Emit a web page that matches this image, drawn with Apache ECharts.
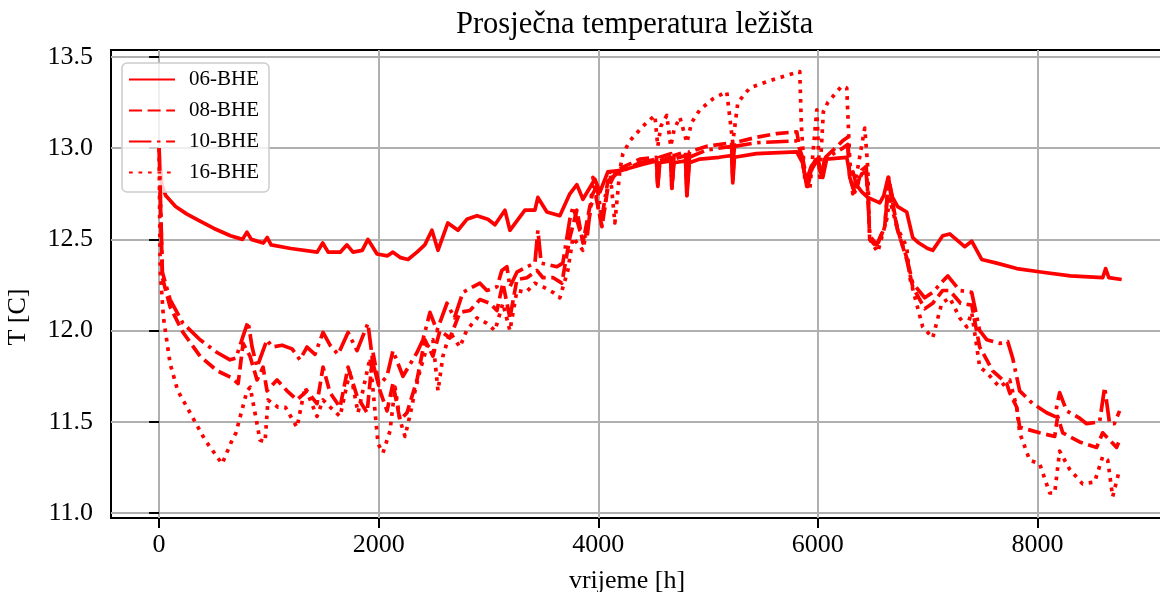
<!DOCTYPE html>
<html><head><meta charset="utf-8">
<script src="https://cdn.jsdelivr.net/npm/echarts@6/dist/echarts.min.js"></script>
<style>html,body{margin:0;padding:0;background:#fff}#c{width:1160px;height:592px}</style>
</head><body><div id="c"></div>
<script>
const titleText = 'Prosječna temperatura ležišta';
const seriesNames = ['06-BHE', '08-BHE', '10-BHE', '16-BHE'];
const xTicks = [0, 2000, 4000, 6000, 8000];
const yTicks = [11.0, 11.5, 12.0, 12.5, 13.0, 13.5];

const s06 = [[0,13.0],[25,12.80],[60,12.74],[150,12.68],[250,12.64],[373,12.60],[500,12.56],[650,12.52],[760,12.50],[800,12.54],[840,12.50],[950,12.48],[985,12.51],[1020,12.47],[1200,12.45],[1440,12.43],[1490,12.48],[1540,12.43],[1650,12.43],[1711,12.47],[1766,12.43],[1850,12.44],[1902,12.50],[1985,12.42],[2080,12.41],[2130,12.43],[2200,12.40],[2267,12.39],[2349,12.43],[2420,12.47],[2485,12.55],[2540,12.44],[2630,12.59],[2722,12.55],[2803,12.61],[2895,12.63],[2995,12.61],[3059,12.58],[3150,12.66],[3195,12.55],[3332,12.66],[3423,12.66],[3450,12.73],[3532,12.65],[3650,12.63],[3741,12.75],[3805,12.80],[3860,12.72],[3969,12.83],[4015,12.76],[4087,12.87],[4224,12.88],[4400,12.91],[4530,12.93],[4542,12.79],[4560,12.92],[4660,12.93],[4670,12.79],[4690,12.92],[4795,12.93],[4807,12.74],[4830,12.92],[4925,12.94],[5100,12.95],[5215,12.96],[5225,12.81],[5240,12.95],[5440,12.97],[5808,12.98],[5860,12.92],[5899,12.79],[5940,12.88],[6000,12.94],[6045,12.84],[6080,12.94],[6263,12.95],[6290,12.86],[6320,12.87],[6350,12.80],[6400,12.76],[6454,12.73],[6564,12.70],[6600,12.74],[6640,12.84],[6680,12.73],[6727,12.68],[6809,12.65],[6864,12.51],[6920,12.48],[7000,12.45],[7046,12.44],[7137,12.52],[7201,12.53],[7337,12.46],[7401,12.49],[7492,12.39],[7629,12.37],[7811,12.34],[8047,12.32],[8300,12.30],[8594,12.29],[8621,12.34],[8650,12.29],[8767,12.28]];

const s08 = [[0,13.0],[30,12.29],[100,12.13],[218,11.99],[373,11.86],[528,11.78],[665,11.74],[720,11.71],[765,11.93],[828,11.86],[892,11.73],[947,11.80],[983,11.67],[1074,11.73],[1165,11.67],[1256,11.62],[1347,11.67],[1438,11.60],[1493,11.80],[1557,11.66],[1648,11.58],[1721,11.80],[1803,11.64],[1894,11.55],[1948,11.88],[2012,11.67],[2076,11.56],[2130,11.71],[2194,11.51],[2258,11.55],[2349,11.73],[2421,11.95],[2494,11.86],[2558,12.00],[2649,11.96],[2740,12.10],[2831,12.11],[2922,12.17],[3013,12.15],[3077,12.11],[3131,12.26],[3195,12.07],[3259,12.28],[3350,12.29],[3441,12.33],[3496,12.29],[3590,12.29],[3668,12.26],[3741,12.51],[3805,12.66],[3860,12.48],[3923,12.68],[3980,12.73],[4033,12.57],[4087,12.78],[4169,12.88],[4379,12.94],[4530,12.95],[4542,12.80],[4560,12.95],[4660,12.97],[4670,12.78],[4690,12.96],[4795,12.98],[4807,12.74],[4830,12.98],[4989,13.01],[5215,13.03],[5225,12.84],[5240,13.03],[5444,13.06],[5626,13.08],[5808,13.09],[5850,12.94],[5908,12.79],[5950,12.90],[5990,12.95],[6036,12.84],[6070,12.95],[6226,13.04],[6272,13.06],[6290,12.84],[6336,12.75],[6400,12.88],[6440,12.90],[6460,12.70],[6472,12.50],[6536,12.46],[6609,12.57],[6645,12.84],[6682,12.70],[6727,12.55],[6809,12.39],[6864,12.24],[6973,12.12],[7046,12.15],[7137,12.22],[7200,12.22],[7300,12.15],[7401,12.14],[7474,11.91],[7592,11.78],[7720,11.71],[7747,11.66],[7811,11.58],[7838,11.47],[8020,11.44],[8157,11.42],[8184,11.53],[8230,11.44],[8384,11.39],[8539,11.36],[8594,11.44],[8657,11.40],[8721,11.36],[8748,11.40]];

const s10 = [[0,13.0],[30,12.32],[100,12.17],[218,12.04],[373,11.95],[528,11.88],[646,11.84],[700,11.85],[765,11.97],[810,12.05],[847,11.91],[892,11.80],[983,11.95],[1030,11.91],[1120,11.92],[1211,11.90],[1283,11.84],[1347,11.91],[1420,11.87],[1493,11.99],[1557,11.92],[1630,11.87],[1721,11.99],[1803,11.89],[1902,12.04],[1948,11.82],[2000,11.70],[2076,11.75],[2130,11.89],[2221,11.75],[2349,11.88],[2403,11.95],[2467,12.10],[2531,12.00],[2622,12.15],[2690,12.07],[2767,12.21],[2858,12.24],[2922,12.26],[2986,12.22],[3077,12.24],[3122,12.33],[3168,12.35],[3195,12.24],[3259,12.32],[3350,12.35],[3423,12.37],[3450,12.55],[3480,12.37],[3623,12.35],[3677,12.37],[3741,12.61],[3770,12.68],[3832,12.55],[3896,12.50],[3941,12.74],[3987,12.79],[4033,12.62],[4087,12.82],[4169,12.86],[4379,12.92],[4530,12.94],[4542,12.80],[4560,12.93],[4660,12.95],[4670,12.78],[4690,12.94],[4795,12.96],[4807,12.76],[4830,12.95],[4989,12.99],[5215,13.01],[5225,12.83],[5240,13.01],[5444,13.03],[5808,13.04],[5860,12.95],[5899,12.83],[5940,12.90],[5990,12.94],[6036,12.84],[6060,12.94],[6226,13.00],[6272,13.02],[6290,12.84],[6336,12.76],[6400,12.86],[6440,12.87],[6460,12.68],[6472,12.52],[6536,12.47],[6609,12.57],[6645,12.82],[6682,12.68],[6727,12.55],[6809,12.40],[6864,12.26],[6973,12.18],[7046,12.21],[7137,12.27],[7183,12.30],[7292,12.22],[7401,12.21],[7474,12.00],[7538,11.95],[7656,11.93],[7729,11.94],[7774,11.85],[7838,11.67],[7956,11.60],[8084,11.55],[8157,11.53],[8202,11.66],[8266,11.56],[8384,11.52],[8448,11.49],[8566,11.50],[8612,11.69],[8657,11.49],[8700,11.49],[8748,11.56]];

const s16 = [[0,13.0],[10,12.33],[40,12.07],[100,11.82],[170,11.67],[282,11.55],[419,11.40],[574,11.27],[665,11.40],[700,11.44],[801,11.67],[830,11.69],[919,11.40],[965,11.39],[992,11.62],[1083,11.58],[1150,11.58],[1256,11.47],[1329,11.69],[1438,11.53],[1493,11.62],[1560,11.58],[1648,11.53],[1739,11.78],[1812,11.55],[1921,11.85],[1960,11.60],[1994,11.38],[2039,11.33],[2103,11.45],[2149,11.69],[2194,11.51],[2240,11.42],[2290,11.55],[2331,11.67],[2376,11.78],[2440,11.91],[2494,11.95],[2540,11.67],[2585,11.86],[2650,11.99],[2740,11.91],[2800,12.00],[2895,12.07],[2986,12.04],[3059,12.00],[3131,12.15],[3195,12.00],[3259,12.22],[3340,12.21],[3423,12.26],[3496,12.24],[3587,12.21],[3650,12.18],[3723,12.33],[3769,12.51],[3860,12.44],[3923,12.64],[3951,12.84],[4033,12.57],[4106,12.88],[4151,12.59],[4197,12.88],[4224,12.97],[4288,13.04],[4406,13.12],[4515,13.18],[4542,13.01],[4570,13.12],[4624,13.18],[4660,13.01],[4690,13.10],[4743,13.17],[4807,13.03],[4850,13.14],[4925,13.21],[5043,13.27],[5170,13.31],[5225,13.03],[5271,13.25],[5380,13.33],[5562,13.37],[5835,13.42],[5850,13.12],[5881,12.83],[5926,12.77],[5990,13.21],[6017,12.84],[6050,13.20],[6090,13.25],[6217,13.34],[6263,13.33],[6290,12.94],[6318,12.75],[6360,12.88],[6427,13.11],[6454,12.90],[6472,12.50],[6545,12.43],[6627,12.61],[6654,12.72],[6718,12.57],[6809,12.46],[6837,12.29],[6955,12.02],[7046,11.96],[7128,12.15],[7201,12.18],[7292,12.07],[7356,12.02],[7401,12.10],[7474,11.80],[7538,11.77],[7656,11.69],[7747,11.73],[7811,11.58],[7838,11.44],[7929,11.29],[8020,11.27],[8111,11.11],[8157,11.11],[8202,11.34],[8293,11.24],[8411,11.16],[8520,11.17],[8594,11.31],[8640,11.29],[8685,11.09],[8748,11.24]];

const FONT = '"Liberation Serif","Times New Roman",serif';
const LW = 3.7;
const dashTypes = ['solid', [13, 5.6], [22.4, 5.6, 3.5, 5.6], [3.7, 5.8]];
const seriesData = [s06, s08, s10, s16];

const chart = echarts.init(document.getElementById('c'), null, {renderer: 'canvas'});
chart.setOption({
  animation: false,
  backgroundColor: '#ffffff',
  title: {
    text: titleText, left: 451, top: 4,
    textStyle: {fontFamily: FONT, fontSize: 30.5, fontWeight: 'normal', color: '#000'}
  },
  legend: {
    orient: 'vertical', left: 122, top: 63,
    padding: [6, 10, 9, 6],
    itemWidth: 46, itemHeight: 20, itemGap: 10,
    backgroundColor: 'rgba(255,255,255,0.8)',
    borderColor: '#cccccc', borderWidth: 1.5, borderRadius: 5,
    itemStyle: {opacity: 0},
    textStyle: {fontFamily: FONT, fontSize: 21, color: '#000', padding: [0, 0, 0, 9]},
    data: seriesNames
  },
  grid: {
    left: 111, top: 50, right: -9, bottom: 74,
    outerBoundsMode: 'none', containLabel: false,
    show: true, borderColor: '#000', borderWidth: 2, backgroundColor: 'transparent'
  },
  xAxis: {
    type: 'value', min: -438, max: 9198,
    name: 'vrijeme [h]', nameLocation: 'middle', nameGap: 50,
    nameTextStyle: {fontFamily: FONT, fontSize: 26, color: '#000', padding: [0, 26, 0, 0]},
    axisLine: {show: false},
    axisTick: {show: true, inside: false, length: 10, customValues: xTicks, lineStyle: {color: '#000', width: 2}},
    axisLabel: {customValues: xTicks, margin: 14, fontFamily: FONT, fontSize: 26, color: '#000',
      formatter: v => String(Math.round(v))},
    splitLine: {show: true, lineStyle: {color: '#b0b0b0', width: 2}}
  },
  yAxis: {
    type: 'value', min: 10.973, max: 13.538,
    name: 'T [C]', nameLocation: 'middle', nameGap: 80, nameRotate: 90,
    nameTextStyle: {fontFamily: FONT, fontSize: 26, color: '#000', padding: [0, 66, 0, 0]},
    axisLine: {show: false},
    axisTick: {show: true, inside: false, length: 10, customValues: yTicks, lineStyle: {color: '#000', width: 2}},
    axisLabel: {customValues: yTicks, margin: 18, fontFamily: FONT, fontSize: 26, color: '#000',
      formatter: v => Number(v).toFixed(1)},
    splitLine: {show: true, lineStyle: {color: '#b0b0b0', width: 2}}
  },
  series: seriesNames.map((name, i) => ({
    name, type: 'line', data: seriesData[i], symbol: 'none',
    lineStyle: {color: '#ff0000', width: LW, type: dashTypes[i], cap: 'butt', join: 'round'},
    itemStyle: {color: '#ff0000'},
    z: 2 + i
  }))
});
</script></body></html>
